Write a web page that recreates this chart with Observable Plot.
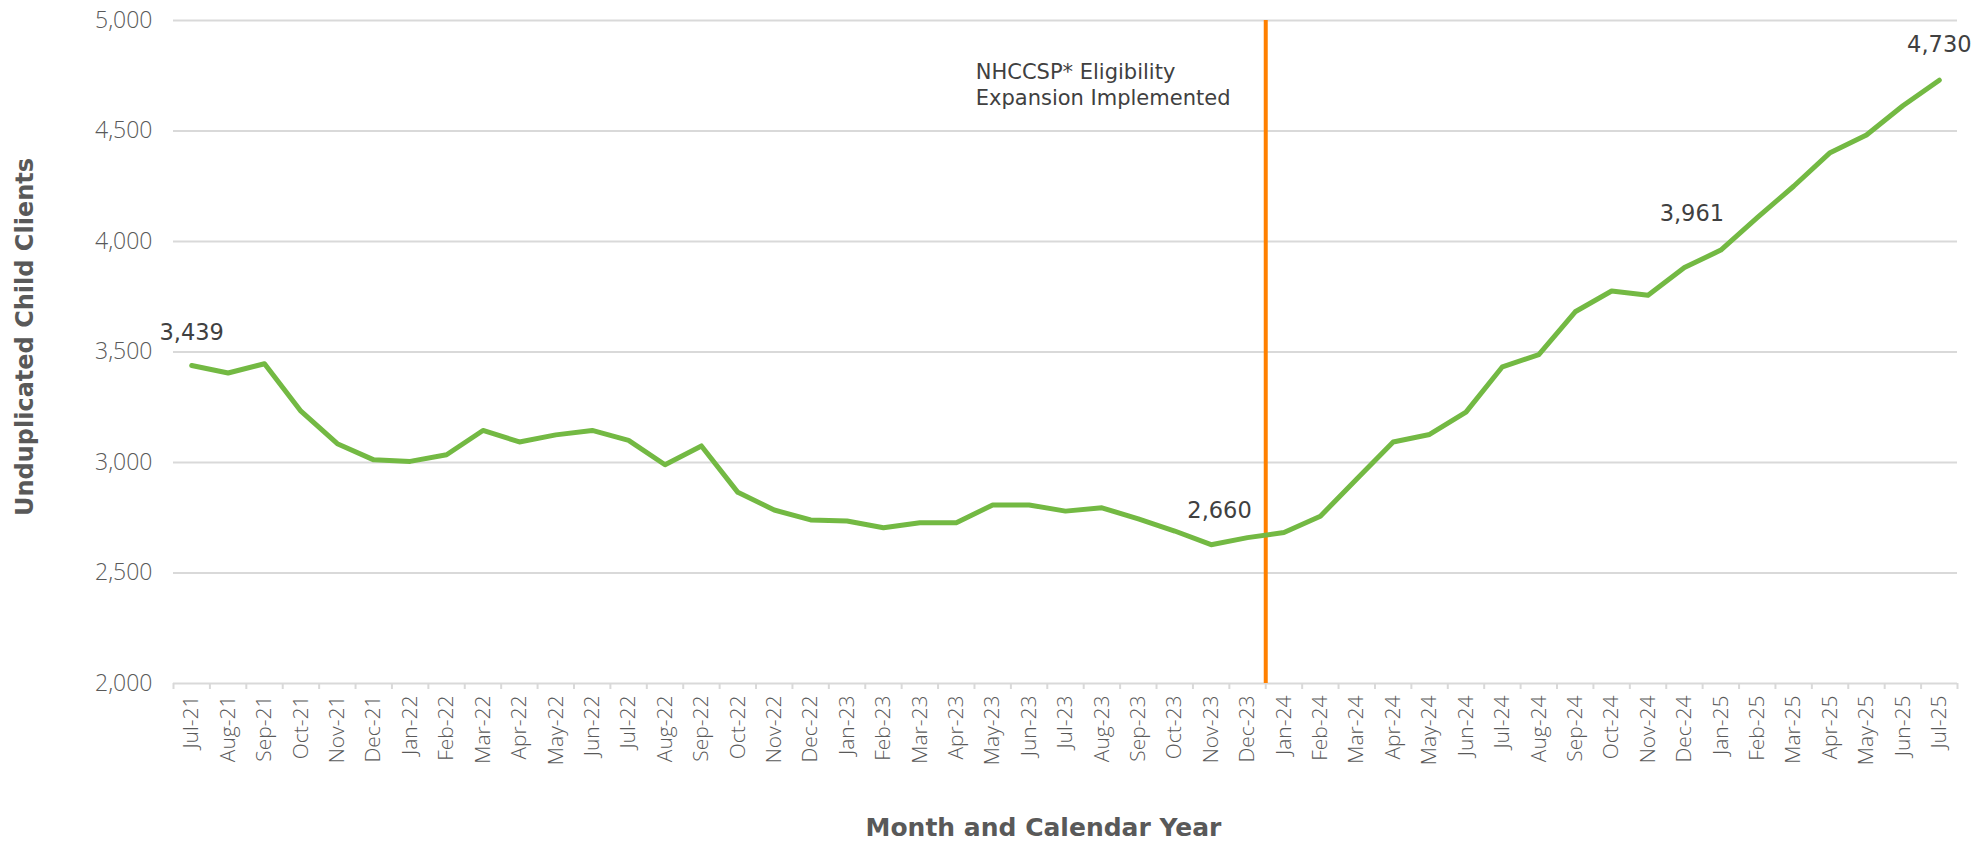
<!DOCTYPE html>
<html>
<head>
<meta charset="utf-8">
<script src="https://cdn.jsdelivr.net/npm/d3@7"></script>
<script src="https://cdn.jsdelivr.net/npm/@observablehq/plot@0.6"></script>
<style>
  html, body { margin: 0; padding: 0; background: #ffffff; }
  #chart svg { display: block; }
</style>
</head>
<body>
<div id="chart"></div>
<script>
// ---- data ----
const months = [
  "Jul-21","Aug-21","Sep-21","Oct-21","Nov-21","Dec-21","Jan-22","Feb-22","Mar-22","Apr-22","May-22","Jun-22",
  "Jul-22","Aug-22","Sep-22","Oct-22","Nov-22","Dec-22","Jan-23","Feb-23","Mar-23","Apr-23","May-23","Jun-23",
  "Jul-23","Aug-23","Sep-23","Oct-23","Nov-23","Dec-23","Jan-24","Feb-24","Mar-24","Apr-24","May-24","Jun-24",
  "Jul-24","Aug-24","Sep-24","Oct-24","Nov-24","Dec-24","Jan-25","Feb-25","Mar-25","Apr-25","May-25","Jun-25","Jul-25"
];
const clients = [
  3439, 3405, 3447, 3232, 3085, 3012, 3005, 3035, 3145, 3093, 3125, 3145,
  3100, 2990, 3075, 2865, 2785, 2740, 2735, 2705, 2727, 2727, 2808, 2808,
  2780, 2795, 2745, 2690, 2628, 2660, 2683, 2757, 2925, 3093, 3127, 3228,
  3433, 3488, 3682, 3776, 3757, 3882, 3961, 4108, 4250, 4402, 4482, 4614, 4730
];
const yTicks = [2000, 2500, 3000, 3500, 4000, 4500, 5000];
const labeledMonths = ["Jul-21", "Dec-23", "Jan-25", "Jul-25"];
const eventMonth = "Jan-24"; // expansion implemented at the start of this month
const eventText = "NHCCSP* Eligibility\nExpansion Implemented";
const yTitle = "Unduplicated Child Clients";
const xTitle = "Month and Calendar Year";

// ---- derived table ----
const data = months.map((m, i) => ({i, month: m, value: clients[i]}));
const indices = months.map((m, i) => i);
const boundaries = months.map((m, i) => i - 0.5).concat([months.length - 0.5]);
const eventX = months.indexOf(eventMonth) - 0.5;
const fmt = d3.format(",");

const labelOffsets = {
  "Jul-21": {dx: 0, dy: -33},
  "Dec-23": {dx: -28, dy: -27},
  "Jan-25": {dx: -29, dy: -36},
  "Jul-25": {dx: 0, dy: -35}
};

const labelMarks = labeledMonths.map(m => Plot.text(data.filter(d => d.month === m), {
  x: "i", y: "value", text: d => fmt(d.value),
  dx: labelOffsets[m].dx, dy: labelOffsets[m].dy,
  fontSize: 22.5, fontFamily: "'DejaVu Sans', sans-serif", fill: "#404040"
}));

const chart = Plot.plot({
  width: 1988,
  height: 842,
  marginLeft: 173,
  marginRight: 31,
  marginTop: 20,
  marginBottom: 159,
  style: {fontFamily: "'Open Sans', sans-serif", background: "#ffffff", overflow: "visible"},
  x: {type: "linear", domain: [-0.5, months.length - 0.5], axis: null},
  y: {domain: [2000, 5000], axis: null},
  marks: [
    Plot.ruleY(yTicks, {stroke: "#d9d9d9", strokeWidth: 2}),
    Plot.axisX(boundaries, {tickFormat: () => "", tickSize: 6, stroke: "#d9d9d9", strokeWidth: 2, label: null}),
    Plot.axisX(indices, {
      tickFormat: i => months[i], tickSize: 0, tickPadding: 12, tickRotate: -90,
      fontSize: 21, fill: "#595959", fontWeight: 300, label: null
    }),
    Plot.axisY(yTicks, {
      tickFormat: fmt, tickSize: 0, tickPadding: 21,
      fontSize: 23, fill: "#595959", fontWeight: 300, label: null
    }),
    Plot.ruleX([eventX], {x: d => d, stroke: "#ff8000", strokeWidth: 4}),
    Plot.line(data, {x: "i", y: "value", stroke: "#73b943", strokeWidth: 5, strokeLinejoin: "round", strokeLinecap: "round"}),
    ...labelMarks,
    Plot.text([eventText], {
      x: eventX, y: 5000, text: d => d, textAnchor: "start", lineAnchor: "top",
      dx: -290, dy: 41, lineHeight: 1.2, fontSize: 21,
      fontFamily: "'DejaVu Sans', sans-serif", fill: "#404040"
    }),
    Plot.text([yTitle], {
      frameAnchor: "left", text: d => d, rotate: -90, textAnchor: "middle", dx: -148, dy: -15,
      fontSize: 24, fontWeight: "bold", fontFamily: "'DejaVu Sans', sans-serif", fill: "#595959"
    }),
    Plot.text([xTitle], {
      frameAnchor: "bottom", text: d => d, textAnchor: "middle", lineAnchor: "bottom", dx: -22, dy: 152,
      fontSize: 25, fontWeight: "bold", fontFamily: "'DejaVu Sans', sans-serif", fill: "#595959"
    })
  ]
});
document.getElementById("chart").appendChild(chart);
</script>
</body>
</html>
